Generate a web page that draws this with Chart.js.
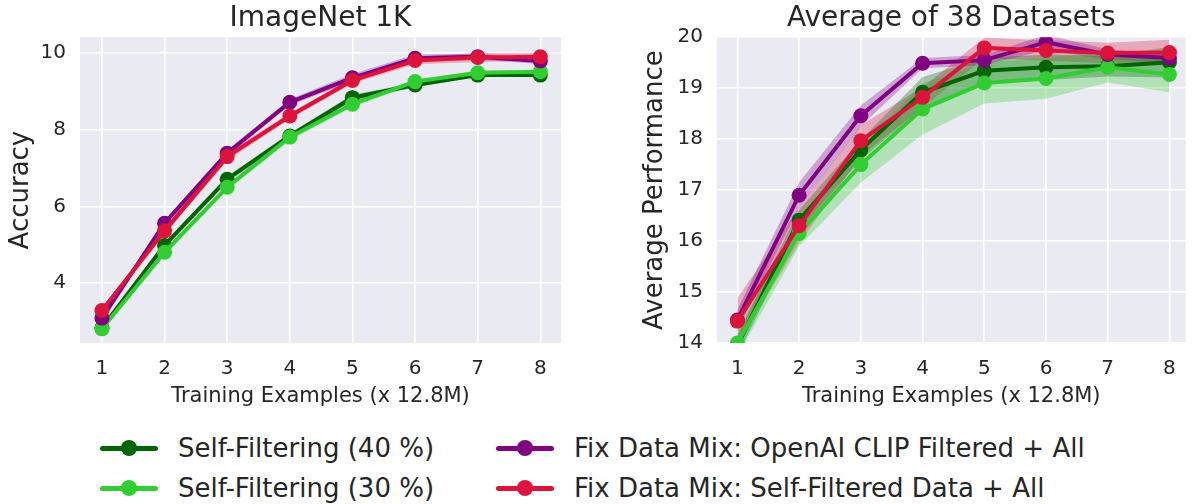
<!DOCTYPE html>
<html>
<head>
<meta charset="utf-8">
<script src="https://cdn.jsdelivr.net/npm/chart.js"></script>
<style>
    body { margin: 0; background: #fff; font-family: 'DejaVu Sans', sans-serif; }
    #wrap { position: relative; width: 1193px; height: 504px; overflow: hidden; }
    canvas { position: absolute; top: 0; }
    #left-chart { left: 0; }
    #right-chart { left: 600px; }
    .legend-item { position: absolute; height: 40px; display: flex; align-items: center; color: #262626; font-size: 26px; white-space: nowrap; }
    .swatch { position: relative; width: 58px; height: 16px; margin-right: 20px; }
    .swatch .line { position: absolute; left: 0; right: 0; top: 5.5px; height: 5px; border-radius: 3px; }
    .swatch .dot { position: absolute; left: 21px; top: 0; width: 16px; height: 16px; border-radius: 50%; }
</style>
</head>
<body>
<div id="wrap">
    <canvas id="left-chart" width="580" height="420"></canvas>
    <canvas id="right-chart" width="593" height="420"></canvas>
    <div id="legend"></div>
</div>

<script>
const xValues = [1, 2, 3, 4, 5, 6, 7, 8];
const xTicks = [1, 2, 3, 4, 5, 6, 7, 8];
const leftYTicks = [4, 6, 8, 10];
const rightYTicks = [14, 15, 16, 17, 18, 19, 20];

const seriesNames = [
    'Self-Filtering (40 %)',
    'Self-Filtering (30 %)',
    'Fix Data Mix: OpenAI CLIP Filtered + All',
    'Fix Data Mix: Self-Filtered Data + All'
];
const seriesColors = ['#006400', '#32cd32', '#800080', '#dc143c'];
const bandColors = ['rgba(0,100,0,0.3)', 'rgba(50,205,50,0.3)', 'rgba(128,0,128,0.3)', 'rgba(220,20,60,0.3)'];

// ImageNet 1K accuracy
const inSelf40 = [2.82, 4.98, 6.71, 7.84, 8.84, 9.17, 9.43, 9.43];
const inSelf30 = [2.80, 4.80, 6.50, 7.81, 8.67, 9.26, 9.49, 9.52];
const inClip = [3.08, 5.56, 7.39, 8.72, 9.36, 9.87, 9.91, 9.80];
const inSelfMix = [3.28, 5.36, 7.30, 8.36, 9.29, 9.81, 9.89, 9.91];
const inSelf40Err = [0.05, 0.06, 0.08, 0.08, 0.08, 0.06, 0.05, 0.05];
const inSelf30Err = [0.05, 0.06, 0.08, 0.08, 0.08, 0.06, 0.05, 0.05];
const inClipErr = [0.06, 0.08, 0.08, 0.08, 0.1, 0.1, 0.08, 0.08];
const inSelfMixErr = [0.08, 0.1, 0.1, 0.08, 0.08, 0.1, 0.12, 0.1];

// average of 38 datasets
const avgSelf40 = [13.95, 16.41, 17.79, 18.92, 19.34, 19.41, 19.43, 19.51];
const avgSelf30 = [14.0, 16.15, 17.50, 18.59, 19.10, 19.19, 19.41, 19.27];
const avgClip = [14.45, 16.90, 18.46, 19.49, 19.55, 19.90, 19.66, 19.59];
const avgSelfMix = [14.43, 16.30, 17.97, 18.82, 19.79, 19.74, 19.69, 19.70];
const avgSelf40Err = [0.2, 0.2, 0.2, 0.3, 0.25, 0.25, 0.2, 0.3];
const avgSelf30Err = [0.25, 0.25, 0.35, 0.5, 0.4, 0.4, 0.3, 0.35];
const avgClipErr = [0.2, 0.25, 0.2, 0.1, 0.1, 0.15, 0.1, 0.1];
const avgSelfMixErr = [0.45, 0.35, 0.3, 0.2, 0.2, 0.2, 0.2, 0.25];

const textColor = '#262626';
const fontFamily = "'DejaVu Sans', sans-serif";

const plotBg = {
    id: 'plotBg',
    beforeDraw(chart) {
        const a = chart.chartArea;
        chart.ctx.save();
        chart.ctx.fillStyle = '#eaeaf2';
        chart.ctx.fillRect(a.left, a.top, a.right - a.left, a.bottom - a.top);
        chart.ctx.restore();
    }
};

function pts(vals, errs, sign) {
    return xValues.map((x, i) => ({ x: x, y: vals[i] + sign * (errs ? errs[i] : 0) }));
}

function buildDatasets(series, errs) {
    const out = [];
    // bands first (upper, then lower filled to upper)
    series.forEach((vals, k) => {
        out.push({
            label: '_band', data: pts(vals, errs[k], 1), borderWidth: 0, pointRadius: 0,
            fill: false, order: 10, backgroundColor: bandColors[k]
        });
        out.push({
            label: '_band', data: pts(vals, errs[k], -1), borderWidth: 0, pointRadius: 0,
            fill: '-1', order: 10, backgroundColor: bandColors[k]
        });
    });
    series.forEach((vals, k) => {
        out.push({
            label: seriesNames[k], data: pts(vals, null, 0),
            borderColor: seriesColors[k], backgroundColor: seriesColors[k],
            borderWidth: 4, pointRadius: 7.5, pointBorderWidth: 0,
            fill: false, order: 3 - k
        });
    });
    return out;
}

function makeChart(id, cfg) {
    const ctx = document.getElementById(id).getContext('2d');
    return new Chart(ctx, {
        type: 'line',
        data: { datasets: buildDatasets(cfg.series, cfg.errs) },
        options: {
            responsive: false,
            animation: false,
            devicePixelRatio: 1,
            layout: { padding: { left: 0, right: cfg.padRight, top: 0, bottom: 0 } },
            plugins: {
                legend: { display: false },
                tooltip: { enabled: false },
                title: {
                    display: true, text: cfg.title, color: textColor, fullSize: false,
                    font: { family: fontFamily, size: 28, weight: 'normal', lineHeight: 1.15 },
                    padding: { top: 3, bottom: 2 }
                }
            },
            scales: {
                x: {
                    type: 'linear', min: cfg.xMin, max: cfg.xMax,
                    afterBuildTicks: s => { s.ticks = xTicks.map(v => ({ value: v })); },
                    afterFit: s => { s.height = 77; },
                    grid: { color: '#ffffff', lineWidth: 1.6, drawTicks: false },
                    border: { display: false },
                    ticks: { color: textColor, font: { family: fontFamily, size: 20 }, padding: 14, maxRotation: 0 },
                    title: {
                        display: true, text: 'Training Examples (x 12.8M)', color: textColor,
                        font: { family: fontFamily, size: 21 }, padding: { top: 0, bottom: 11 }
                    }
                },
                y: {
                    type: 'linear', min: cfg.yMin, max: cfg.yMax,
                    afterBuildTicks: s => { s.ticks = cfg.yTicks.map(v => ({ value: v })); },
                    afterFit: s => { s.width = cfg.yWidth; },
                    grid: { color: '#ffffff', lineWidth: 1.6, drawTicks: false },
                    border: { display: false },
                    ticks: { color: textColor, font: { family: fontFamily, size: 20 }, padding: 14 },
                    title: {
                        display: true, text: cfg.yTitle, color: textColor,
                        font: { family: fontFamily, size: 26 }, padding: { top: cfg.yTitlePad, bottom: 0 }
                    }
                }
            }
        },
        plugins: [plotBg]
    });
}

makeChart('left-chart', {
    title: 'ImageNet 1K', yTitle: 'Accuracy',
    series: [inSelf40, inSelf30, inClip, inSelfMix],
    errs: [inSelf40Err, inSelf30Err, inClipErr, inSelfMixErr],
    xMin: 0.65, xMax: 8.33, yMin: 2.43, yMax: 10.42, yTicks: leftYTicks,
    yWidth: 80, yTitlePad: 6, padRight: 19
});

makeChart('right-chart', {
    title: 'Average of 38 Datasets', yTitle: 'Average Performance',
    series: [avgSelf40, avgSelf30, avgClip, avgSelfMix],
    errs: [avgSelf40Err, avgSelf30Err, avgClipErr, avgSelfMixErr],
    xMin: 0.67, xMax: 8.26, yMin: 14, yMax: 20, yTicks: rightYTicks,
    yWidth: 117, yTitlePad: 40, padRight: 0
});

// legend: two columns, two rows
const legendPos = [[100, 428], [100, 468], [496, 428], [496, 468]];
const legend = document.getElementById('legend');
seriesNames.forEach((name, k) => {
    const item = document.createElement('div');
    item.className = 'legend-item';
    item.style.left = legendPos[k][0] + 'px';
    item.style.top = legendPos[k][1] + 'px';
    item.innerHTML = '<span class="swatch"><span class="line" style="background:' + seriesColors[k] +
        '"></span><span class="dot" style="background:' + seriesColors[k] + '"></span></span>' +
        '<span>' + name + '</span>';
    legend.appendChild(item);
});
</script>
</body>
</html>
